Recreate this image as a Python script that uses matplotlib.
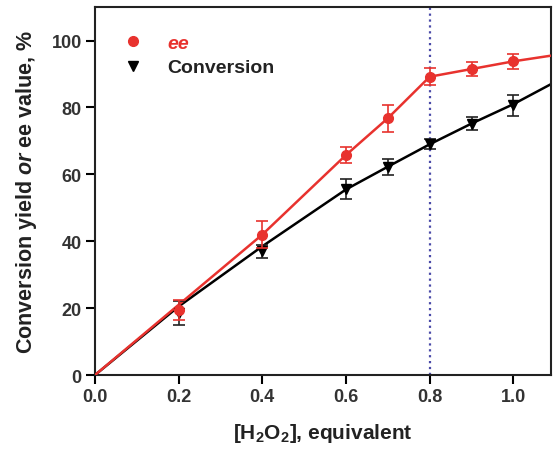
import matplotlib.pyplot as plt
from matplotlib.lines import Line2D

plt.rcParams['font.family'] = ['Liberation Sans', 'DejaVu Sans']
plt.rcParams['font.weight'] = 'bold'
plt.rcParams['mathtext.fontset'] = 'custom'
plt.rcParams['mathtext.rm'] = 'Liberation Sans:bold'
plt.rcParams['mathtext.it'] = 'Liberation Sans:italic:bold'
plt.rcParams['mathtext.bf'] = 'Liberation Sans:bold'

# 数据
h2o2 = [0.2, 0.4, 0.6, 0.7, 0.8, 0.9, 1.0]
ee = [19.5, 42, 65.8, 76.8, 89.2, 91.5, 93.8]
ee_err = [3, 4, 2.5, 4, 2.5, 2, 2.2]
conv = [18.5, 37, 55.5, 62.2, 69, 75.2, 80.6]
conv_err = [3.5, 2, 3, 2.5, 1.5, 2, 3]

# 连线（红线为折线，黑线为拟合曲线）
ee_line_x = [0, 0.4, 0.6, 0.7, 0.8, 0.9, 1.0, 1.09]
ee_line_y = [0, 42, 65.8, 76.8, 89.2, 91.5, 93.8, 95.5]
conv_line_x = [0, 0.2, 0.4, 0.6, 0.7, 0.8, 0.9, 1.0, 1.09]
conv_line_y = [0, 20.5, 38.5, 55.5, 62.3, 69, 75.2, 81, 87]

red = '#e8322e'

fig = plt.figure(figsize=(5.55, 4.52), dpi=100)
ax = fig.add_axes([0.171, 0.168, 0.822, 0.814])

ax.axvline(0.8, color='#4a4aa8', linestyle=':', linewidth=1.6, zorder=1)

ax.plot(conv_line_x, conv_line_y, color='black', linewidth=1.8, zorder=2)
ax.plot(ee_line_x, ee_line_y, color=red, linewidth=1.8, zorder=3)

ax.errorbar(h2o2, conv, yerr=conv_err, fmt='v', color='black', markersize=7,
            ecolor='#222222', elinewidth=1.2, capsize=4, capthick=1.2, zorder=4)
ax.errorbar(h2o2, ee, yerr=ee_err, fmt='o', color=red, markersize=7,
            ecolor=red, elinewidth=1.2, capsize=4, capthick=1.2, zorder=5)

ax.set_xlim(0, 1.09)
ax.set_ylim(0, 110)
ax.set_xticks([0.0, 0.2, 0.4, 0.6, 0.8, 1.0])
ax.set_xticklabels(['0.0', '0.2', '0.4', '0.6', '0.8', '1.0'])
ax.set_yticks([0, 20, 40, 60, 80, 100])

ax.tick_params(direction='out', length=6.5, width=1.5, labelsize=13,
               labelcolor='#333333', top=False, right=False, pad=3)
for s in ax.spines.values():
    s.set_linewidth(1.5)
    s.set_color('#222222')

ax.set_xlabel(r'[H$_2$O$_2$], equivalent', fontsize=15, fontweight='bold',
              color='#222222', labelpad=11)
ax.set_ylabel(r'Conversion yield $\mathit{or}$ ee value, %', fontsize=15.5,
              fontweight='bold', color='#222222', labelpad=9)

handles = [Line2D([], [], marker='o', color=red, linestyle='none', markersize=7),
           Line2D([], [], marker='v', color='black', linestyle='none', markersize=7)]
leg = ax.legend(handles, ['ee', 'Conversion'], loc='upper left', frameon=False,
                fontsize=14, handletextpad=1.0, borderaxespad=0.3,
                bbox_to_anchor=(0.022, 0.963), handlelength=1.5, labelspacing=0.35)
leg.get_texts()[0].set_color(red)
leg.get_texts()[0].set_fontstyle('italic')
leg.get_texts()[1].set_color('#222222')

plt.savefig('out.png', dpi=100)
plt.close()
